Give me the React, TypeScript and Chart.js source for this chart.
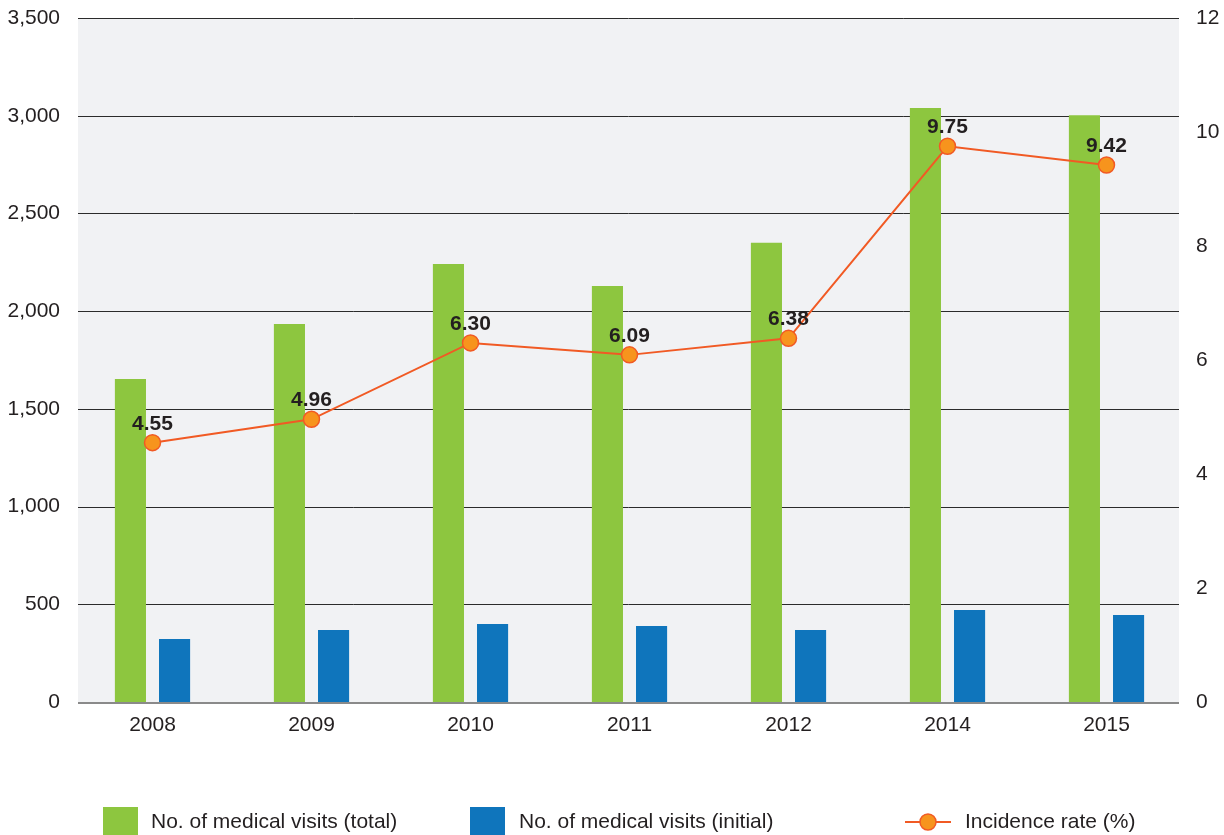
import React, { useEffect, useRef } from "react";
import { Chart, registerables } from "chart.js";

Chart.register(...registerables);

const years = ["2008", "2009", "2010", "2011", "2012", "2014", "2015"];
const visitsTotal = [1653, 1934, 2241, 2129, 2350, 3039, 3002];
const visitsInitial = [322, 368, 399, 389, 368, 471, 445];
const incidenceRate = [4.55, 4.96, 6.3, 6.09, 6.38, 9.75, 9.42];
const leftTicks = [0, 500, 1000, 1500, 2000, 2500, 3000, 3500];
const rightTicks = [0, 2, 4, 6, 8, 10, 12];

const GREEN = "#8dc63f";
const BLUE = "#0f75bc";
const LINE = "#f15a24";
const POINT = "#f7941d";
const TEXT = "#231f20";
const FONT = "'Liberation Sans', Arial, sans-serif";
const PLOT_LEFT = 78;
const PLOT_RIGHT = 1179;

export default function App() {
  const ref = useRef<HTMLCanvasElement | null>(null);

  useEffect(() => {
    if (!ref.current) return;
    const bgPlugin = {
      id: "bg",
      beforeDatasetsDraw(chart: any) {
        const { ctx, chartArea } = chart;
        const ys = chart.scales.y;
        ctx.save();
        ctx.fillStyle = "#f1f2f4";
        ctx.fillRect(PLOT_LEFT, chartArea.top, PLOT_RIGHT - PLOT_LEFT, chartArea.bottom - chartArea.top);
        ctx.strokeStyle = "#2b2b2b";
        ctx.lineWidth = 1;
        leftTicks.forEach((v) => {
          if (v === 0) return;
          const y = Math.round(ys.getPixelForValue(v)) + 0.5;
          ctx.beginPath();
          ctx.moveTo(PLOT_LEFT, y);
          ctx.lineTo(PLOT_RIGHT, y);
          ctx.stroke();
        });
        ctx.restore();
      },
      afterDatasetsDraw(chart: any) {
        const { ctx } = chart;
        const y0 = chart.scales.y.getPixelForValue(0);
        ctx.save();
        ctx.strokeStyle = "#8a8a8a";
        ctx.lineWidth = 2;
        ctx.beginPath();
        ctx.moveTo(PLOT_LEFT, y0 + 1);
        ctx.lineTo(PLOT_RIGHT, y0 + 1);
        ctx.stroke();
        ctx.restore();
      },
    };
    const labelPlugin = {
      id: "labels",
      afterDraw(chart: any) {
        const { ctx } = chart;
        const meta = chart.getDatasetMeta(2);
        ctx.save();
        ctx.font = `bold 21px ${FONT}`;
        ctx.fillStyle = TEXT;
        ctx.textAlign = "center";
        ctx.textBaseline = "alphabetic";
        meta.data.forEach((pt: any, i: number) => {
          ctx.fillText(incidenceRate[i].toFixed(2), pt.x, pt.y - 13);
        });
        ctx.restore();
      },
    };
    const legendPlugin = {
      id: "customLegend",
      afterDraw(chart: any) {
        const { ctx } = chart;
        const y = 822;
        ctx.save();
        ctx.font = `21px ${FONT}`;
        ctx.textBaseline = "middle";
        ctx.textAlign = "left";
        ctx.fillStyle = GREEN;
        ctx.fillRect(103, 807, 35, 30);
        ctx.fillStyle = TEXT;
        ctx.fillText("No. of medical visits (total)", 151, y);
        ctx.fillStyle = BLUE;
        ctx.fillRect(470, 807, 35, 30);
        ctx.fillStyle = TEXT;
        ctx.fillText("No. of medical visits (initial)", 519, y);
        ctx.strokeStyle = LINE;
        ctx.lineWidth = 2;
        ctx.beginPath();
        ctx.moveTo(905, y);
        ctx.lineTo(951, y);
        ctx.stroke();
        ctx.beginPath();
        ctx.arc(928, y, 8, 0, Math.PI * 2);
        ctx.fillStyle = POINT;
        ctx.fill();
        ctx.lineWidth = 1.5;
        ctx.stroke();
        ctx.fillStyle = TEXT;
        ctx.fillText("Incidence rate (%)", 965, y);
        ctx.restore();
      },
    };

    const chart = new Chart(ref.current, {
      type: "bar",
      data: {
        labels: years,
        datasets: [
          {
            type: "bar",
            label: "No. of medical visits (total)",
            data: visitsTotal,
            backgroundColor: GREEN,
            yAxisID: "y",
            categoryPercentage: 0.555,
            barPercentage: 0.705,
            order: 2,
          },
          {
            type: "bar",
            label: "No. of medical visits (initial)",
            data: visitsInitial,
            backgroundColor: BLUE,
            yAxisID: "y",
            categoryPercentage: 0.555,
            barPercentage: 0.705,
            order: 2,
          },
          {
            type: "line",
            label: "Incidence rate (%)",
            data: incidenceRate,
            borderColor: LINE,
            borderWidth: 2,
            backgroundColor: POINT,
            pointBackgroundColor: POINT,
            pointBorderColor: LINE,
            pointBorderWidth: 1.5,
            pointRadius: 8,
            yAxisID: "y1",
            order: 1,
          } as any,
        ],
      },
      options: {
        responsive: false,
        animation: false,
        layout: { padding: { top: 18, left: 0, right: 0, bottom: 0 } },
        plugins: {
          legend: { display: false },
          tooltip: { enabled: false },
        },
        scales: {
          x: {
            grid: { display: false, drawTicks: false },
            border: { display: false },
            ticks: { color: TEXT, font: { family: FONT, size: 21 }, padding: 11 },
            afterFit(scale: any) {
              scale.height = 133;
              scale.paddingLeft = 0;
              scale.paddingRight = 0;
            },
          },
          y: {
            position: "left",
            min: 0,
            max: 3500,
            afterBuildTicks(scale: any) {
              scale.ticks = leftTicks.map((v) => ({ value: v }));
            },
            grid: { display: false, drawTicks: false },
            border: { display: false },
            ticks: {
              color: TEXT,
              font: { family: FONT, size: 21 },
              padding: 13,
              callback: (v: any) => Number(v).toLocaleString("en-US"),
            },
            afterFit(scale: any) {
              scale.width = 73;
              scale.paddingTop = 0;
              scale.paddingBottom = 0;
            },
          },
          y1: {
            position: "right",
            min: 0,
            max: 12,
            afterBuildTicks(scale: any) {
              scale.ticks = rightTicks.map((v) => ({ value: v }));
            },
            grid: { display: false, drawTicks: false },
            border: { display: false },
            ticks: { color: TEXT, font: { family: FONT, size: 21 }, padding: 10 },
            afterFit(scale: any) {
              scale.width = 38;
              scale.paddingTop = 0;
              scale.paddingBottom = 0;
            },
          },
        },
      },
      plugins: [bgPlugin, labelPlugin, legendPlugin],
    });
    return () => chart.destroy();
  }, []);

  return (
    <div style={{ position: "fixed", left: 0, top: 0, width: 1224, height: 835 }}>
      <canvas ref={ref} width={1224} height={835} style={{ display: "block" }} />
    </div>
  );
}
